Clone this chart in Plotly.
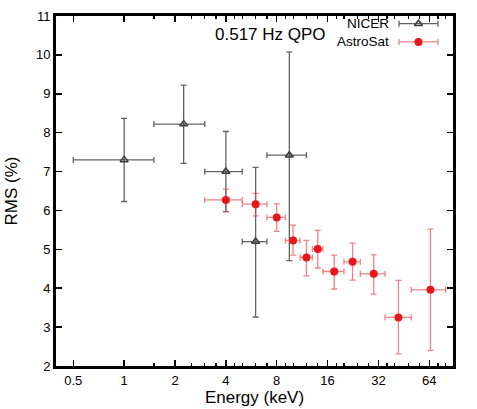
import math
import plotly.graph_objects as go

# ---------------- data ----------------
nicer_energy = [1.0, 2.25, 4.0, 6.0, 9.5]
nicer_energy_lo = [0.5, 1.5, 3.0, 5.0, 7.0]
nicer_energy_hi = [1.5, 3.0, 5.0, 7.0, 12.0]
nicer_rms = [7.30, 8.22, 7.00, 5.20, 7.42]
nicer_rms_lo = [6.23, 7.21, 5.97, 3.26, 4.71]
nicer_rms_hi = [8.37, 9.22, 8.03, 7.11, 10.08]

astro_energy = [4.0, 6.0, 8.0, 10.0, 12.0, 14.0, 17.5, 22.5, 30.0, 42.0, 65.0]
astro_energy_lo = [3.0, 5.0, 7.0, 9.0, 11.0, 13.0, 15.0, 20.0, 25.0, 35.0, 50.0]
astro_energy_hi = [5.0, 7.0, 9.0, 11.0, 13.0, 15.0, 20.0, 25.0, 35.0, 50.0, 80.0]
astro_rms = [6.27, 6.16, 5.82, 5.23, 4.79, 5.01, 4.43, 4.68, 4.37, 3.25, 3.96]
astro_rms_lo = [5.97, 5.86, 5.46, 4.85, 4.32, 4.52, 3.98, 4.21, 3.85, 2.31, 2.40]
astro_rms_hi = [6.55, 6.44, 6.17, 5.62, 5.23, 5.49, 4.85, 5.16, 4.86, 4.20, 5.52]

x_tick_vals = [0.5, 1, 2, 4, 8, 16, 32, 64]
x_tick_text = ["0.5", "1", "2", "4", "8", "16", "32", "64"]
x_minor_vals = [1.5, 2.5, 3, 3.5, 4.5, 5, 6, 7, 9, 10, 12, 14, 18, 20, 24, 28,
                36, 40, 48, 56, 72, 80]
y_tick_vals = [2, 3, 4, 5, 6, 7, 8, 9, 10, 11]

title_text = "0.517 Hz QPO"
x_title = "Energy (keV)"
y_title = "RMS (%)"
legend_names = ["NICER", "AstroSat"]

FONT = "Liberation Sans, Arial, Helvetica, sans-serif"
GRAY_BAR = "rgba(70,70,70,0.85)"
GRAY_MK = "#3a3a3a"
RED_BAR = "rgba(238,60,60,0.65)"
RED_MK = "#e8161b"


def plus(v, hi):
    return [h - a for a, h in zip(v, hi)]


def minus(v, lo):
    return [a - l for a, l in zip(v, lo)]


fig = go.Figure()

fig.add_trace(go.Scatter(
    x=nicer_energy, y=nicer_rms, mode="markers", name=legend_names[0],
    marker=dict(symbol="triangle-up-open", size=7, color=GRAY_MK,
                line=dict(width=1.5, color=GRAY_MK)),
    error_x=dict(type="data", symmetric=False,
                 array=plus(nicer_energy, nicer_energy_hi),
                 arrayminus=minus(nicer_energy, nicer_energy_lo),
                 color=GRAY_BAR, thickness=1.3, width=3),
    error_y=dict(type="data", symmetric=False,
                 array=plus(nicer_rms, nicer_rms_hi),
                 arrayminus=minus(nicer_rms, nicer_rms_lo),
                 color=GRAY_BAR, thickness=1.3, width=3),
    showlegend=False,
))

fig.add_trace(go.Scatter(
    x=astro_energy, y=astro_rms, mode="markers", name=legend_names[1],
    marker=dict(symbol="circle", size=8, color=RED_MK),
    error_x=dict(type="data", symmetric=False,
                 array=plus(astro_energy, astro_energy_hi),
                 arrayminus=minus(astro_energy, astro_energy_lo),
                 color=RED_BAR, thickness=1.3, width=3),
    error_y=dict(type="data", symmetric=False,
                 array=plus(astro_rms, astro_rms_hi),
                 arrayminus=minus(astro_rms, astro_rms_lo),
                 color=RED_BAR, thickness=1.3, width=3),
    showlegend=False,
))

# ---- custom legend (text left of sample, like the reference) ----
leg_x = 0.913
leg_half = 0.049
leg_y = [0.978, 0.926]
fig.add_trace(go.Scatter(
    x=[leg_x], y=[leg_y[0]], mode="markers", xaxis="x2", yaxis="y2",
    marker=dict(symbol="triangle-up-open", size=7, color=GRAY_MK,
                line=dict(width=1.5, color=GRAY_MK)),
    error_x=dict(type="constant", value=leg_half, color=GRAY_BAR,
                 thickness=1.3, width=3),
    showlegend=False, hoverinfo="skip"))
fig.add_trace(go.Scatter(
    x=[leg_x], y=[leg_y[1]], mode="markers", xaxis="x2", yaxis="y2",
    marker=dict(symbol="circle", size=8, color=RED_MK),
    error_x=dict(type="constant", value=leg_half, color=RED_BAR,
                 thickness=1.3, width=3),
    showlegend=False, hoverinfo="skip"))
for name, yy in zip(legend_names, leg_y):
    fig.add_annotation(x=0.843, y=yy, xref="paper", yref="paper",
                       text=name, showarrow=False, xanchor="right",
                       yanchor="middle",
                       font=dict(family=FONT, size=13.5, color="black"))

fig.add_annotation(x=0.54, y=0.946, xref="paper", yref="paper",
                   text=title_text, showarrow=False, xanchor="center",
                   yanchor="middle",
                   font=dict(family=FONT, size=17, color="black"))

axis_common = dict(showline=True, linecolor="black", linewidth=3,
                   mirror="ticks", ticks="inside", tickcolor="black",
                   tickwidth=1.5, showgrid=False, zeroline=False,
                   automargin=False,
                   tickfont=dict(family=FONT, size=13, color="black"))

fig.update_layout(
    width=477, height=409,
    margin=dict(l=56, r=24, t=16, b=43, autoexpand=False),
    paper_bgcolor="white", plot_bgcolor="white",
    font=dict(family=FONT, color="black"),
    xaxis=dict(type="log",
               range=[math.log10(0.395), math.log10(88.4)],
               tickmode="array", tickvals=x_tick_vals, ticktext=x_tick_text,
               ticklen=6,
               minor=dict(tickmode="array", tickvals=x_minor_vals,
                          ticks="inside", ticklen=3, tickcolor="black",
                          tickwidth=1.2),
               title=dict(text=x_title,
                          font=dict(family=FONT, size=17, color="black"),
                          standoff=3),
               **axis_common),
    yaxis=dict(range=[2, 11], tickmode="array", tickvals=y_tick_vals,
               ticklen=6,
               title=dict(text=y_title,
                          font=dict(family=FONT, size=17, color="black"),
                          standoff=14),
               **axis_common),
    xaxis2=dict(range=[0, 1], overlaying="x", visible=False, fixedrange=True),
    yaxis2=dict(range=[0, 1], overlaying="y", visible=False, fixedrange=True),
)

fig.write_html("out.html",
               config={"displayModeBar": False, "staticPlot": True},
               post_script="document.body.style.margin='0';"
                           "document.body.style.overflow='hidden';")
